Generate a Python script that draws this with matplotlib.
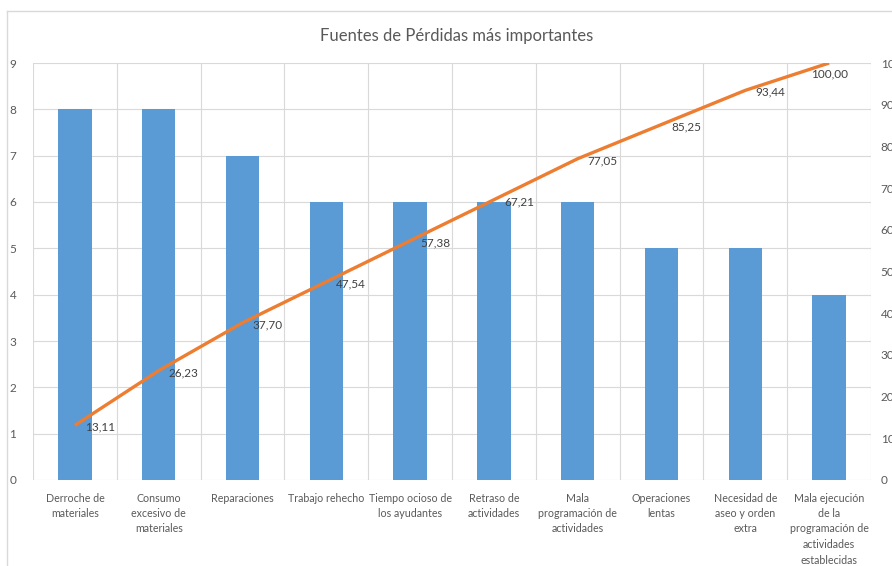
import numpy as np
import matplotlib.pyplot as plt
from matplotlib.lines import Line2D

plt.rcParams['font.family'] = ['Lato', 'DejaVu Sans']

causas = [
    "Derroche de\nmateriales",
    "Consumo\nexcesivo de\nmateriales",
    "Reparaciones",
    "Trabajo rehecho",
    "Tiempo ocioso de\nlos ayudantes",
    "Retraso de\nactividades",
    "Mala\nprogramación de\nactividades",
    "Operaciones\nlentas",
    "Necesidad de\naseo y orden\nextra",
    "Mala ejecución\nde la\nprogramación de\nactividades\nestablecidas",
]
frecuencia = [8, 8, 7, 6, 6, 6, 6, 5, 5, 4]
acumulado = [13.11, 26.23, 37.70, 47.54, 57.38, 67.21, 77.05, 85.25, 93.44, 100.00]

W, H = 892, 566
fig = plt.figure(figsize=(W / 100, H / 100), dpi=100)
fig.subplots_adjust(left=33 / W, right=871 / W, top=1 - 63 / H, bottom=1 - 480 / H)
ax = fig.add_subplot(111)

gris = "#595959"
rejilla = "#D9D9D9"
x = np.arange(len(causas))

ax.bar(x, frecuencia, width=0.4, color="#5B9BD5", zorder=2)
ax.set_xlim(-0.5, len(causas) - 0.5)
ax.set_ylim(0, 9)
ax.set_yticks(range(0, 10))
ax.set_xticks(x)
ax.set_xticklabels(causas, fontsize=7.7, color=gris, linespacing=1.5)
ax.set_xticks(np.arange(-0.5, len(causas), 1), minor=True)
ax.tick_params(axis="x", which="both", length=0, pad=9)
ax.tick_params(axis="y", length=0, pad=12, labelsize=8.5, labelcolor=gris)
ax.grid(axis="y", color=rejilla, lw=0.8, zorder=0)
ax.grid(axis="x", which="minor", color=rejilla, lw=0.8, zorder=0)
for s in ax.spines.values():
    s.set_visible(False)

# porcentaje acumulado sobre el eje derecho
ax2 = ax.twinx()
ax2.plot(x, acumulado, color="#ED7D31", lw=2.4, solid_capstyle="butt", zorder=3)
ax2.set_ylim(0, 100)
ax2.set_yticks(range(0, 101, 10))
ax2.tick_params(axis="y", length=0, pad=7, labelsize=8.5, labelcolor=gris)
for s in ax2.spines.values():
    s.set_visible(False)

for i, v in enumerate(acumulado):
    txt = f"{v:.2f}".replace(".", ",")
    if i == len(acumulado) - 1:
        ax2.annotate(txt, (i, v), xytext=(0, -11), textcoords="offset pixels",
                     ha="center", va="center", fontsize=8.5, color="#404040")
    else:
        ax2.annotate(txt, (i, v), xytext=(10, -2), textcoords="offset pixels",
                     ha="left", va="center", fontsize=8.5, color="#404040")

fig.text(457 / W, 1 - 36 / H, "Fuentes de Pérdidas más importantes",
         ha="center", va="center", fontsize=12, color=gris)

# borde del área del gráfico
borde = dict(color=rejilla, lw=1, transform=fig.transFigure)
fig.add_artist(Line2D([7 / W, 1], [1 - 11 / H, 1 - 11 / H], **borde))
fig.add_artist(Line2D([7 / W, 7 / W], [0, 1 - 11 / H], **borde))

fig.savefig("out.png", dpi=100)
